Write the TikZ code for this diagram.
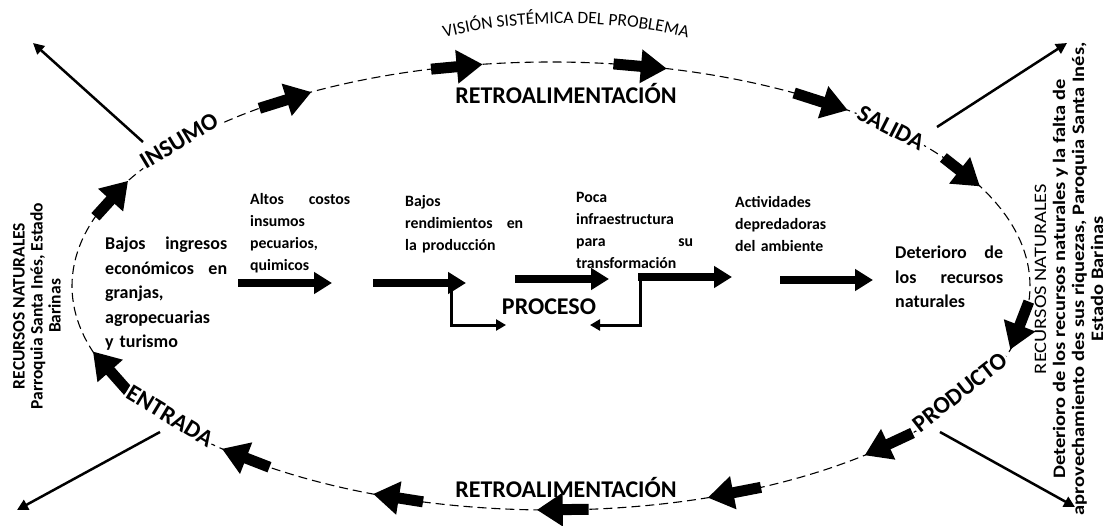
\documentclass[tikz,border=0pt]{standalone}
\usepackage{fontspec}
\setmainfont{Carlito}
\usetikzlibrary{arrows.meta,decorations.text}
\tikzset{
  ell/.style={dash pattern=on 9pt off 5pt, line width=1.1pt},
  blk/.style={line width=11pt, -{Triangle[length=26pt,width=32pt]}},
  pro/.style={line width=7.5pt, -{Triangle[length=18pt,width=21pt]}},
  lng/.style={line width=2.5pt, -{Triangle[length=11pt,width=11pt]}},
  elb/.style={line width=3pt, -{Triangle[length=10pt,width=11pt]}},
  lab/.style={font=\fontsize{24}{24}\selectfont\bfseries, fill=white, inner sep=1.5pt},
  big/.style={font=\fontsize{24}{24}\selectfont\bfseries, inner sep=0pt},
  txt/.style={font=\fontsize{15.8}{22}\selectfont\bfseries, align=left, anchor=north west, inner sep=0pt},
  txtb/.style={font=\fontsize{18}{24.5}\selectfont\bfseries, align=left, anchor=north west, inner sep=0pt},
  side/.style={font=\fontsize{17.5}{18}\selectfont\bfseries, align=center, rotate=90, inner sep=0pt},
}
\begin{document}
\begin{tikzpicture}[x=1pt,y=-1pt]
\fill[white] (0,0) rectangle (1106,525);
\useasboundingbox (0,0) rectangle (1106,525);

% dashed system ellipse
\draw[ell] (551,286) ellipse [x radius=479pt, y radius=224pt];

% block arrows along the ellipse
\foreach \a/\b in {127.5/120, 104.5/98.2, 82.5/76, 59.5/51.7, 35/26.4, -4/-16.5,
  -41/-49.1, -64/-70.9, -85.5/-91.7, -105.5/-111.8, -126/-133.4,
  -152/-163, 162/152}
  \draw[blk] ({551+479*cos(\a)},{286-224*sin(\a)}) -- ({551+479*cos(\b)},{286-224*sin(\b)});

% labels on the ellipse
\node[lab, rotate=31]  (insumo)   at (179,141) {INSUMO};
\node[lab, rotate=-27] (salida)   at (891,128) {SALIDA};
\node[lab, rotate=38]  (producto) at (960,392) {PRODUCTO};
\node[lab, rotate=-31] (entrada)  at (170,416) {ENTRADA};

\node[big] (retro1) at (566,94)  {RETROALIMENTACIÓN};
\node[big] (retro2) at (566,487) {RETROALIMENTACIÓN};
\node[big] (proceso) at (549,307) {PROCESO};

% curved title
\path[decorate, decoration={text along path, text align=center,
  text={|\fontsize{17.5}{17.5}\selectfont|VISIÓN SISTÉMICA DEL PROBLEMA}}]
  (418,46) .. controls (495,16) and (635,16) .. (714,46);

% long outward arrows
\coordinate (i1) at (143,142); \coordinate (i2) at (33,43);
\coordinate (s1) at (937,127); \coordinate (s2) at (1067,43);
\coordinate (e1) at (160,432); \coordinate (e2) at (17,510);
\coordinate (r1) at (940,432); \coordinate (r2) at (1075,507);
\draw[lng] (i1) -- (i2);
\draw[lng] (s1) -- (s2);
\draw[lng] (e1) -- (e2);
\draw[lng] (r1) -- (r2);

% side texts
\node[side] (left) at (37,306) {RECURSOS NATURALES\\Parroquia Santa Inés, Estado\\Barinas};
\node[side, font=\fontsize{17.5}{19}\selectfont\bfseries, xscale=1.17] (right) at (1069,279) {\mdseries RECURSOS NATURALES\\Deterioro de los recursos naturales y la falta de\\aprovechamiento des sus riquezas, Paroquia Santa Inés,\\Estado Barinas};

% inner texts
\node[txtb, text width=122pt] (n1) at (105,237) {Bajos\hfill ingresos\\económicos\hfill en\\granjas,\\agropecuarias\\y turismo};
\node[txt, text width=100pt] (n2) at (250,193) {Altos\hfill costos\\insumos\\pecuarios,\\quimicos};
\node[txt, text width=118pt] (n3) at (405,195) {Bajos\\rendimientos\hfill en\\la producción};
\node[txt, text width=117pt] (n4) at (576,192) {Poca\\infraestructura\\para\hfill su\\transformación};
\node[txt, text width=110pt] (n5) at (735,196) {Actividades\\depredadoras\\del ambiente};
\node[txtb, text width=108pt] (n6) at (895,246) {Deterioro\hfill de\\los\hfill recursos\\naturales};

% process arrows
\coordinate (a1) at (238,283); \coordinate (a2) at (332,283);
\coordinate (b1) at (373,283); \coordinate (b2) at (466,283);
\coordinate (c1) at (515,279); \coordinate (c2) at (609,279);
\coordinate (d1) at (638,277); \coordinate (d2) at (732,277);
\coordinate (f1) at (780,280); \coordinate (f2) at (873,280);
\draw[pro] (a1) -- (a2);
\draw[pro] (b1) -- (b2);
\draw[pro] (c1) -- (c2);
\draw[pro] (d1) -- (d2);
\draw[pro] (f1) -- (f2);
\coordinate (g1) at (451,281); \coordinate (g2) at (506,325);
\draw[elb] (g1) |- (g2);
\coordinate (h1) at (640,275); \coordinate (h2) at (590,325);
\draw[elb] (h1) |- (h2);
\end{tikzpicture}
\end{document}
